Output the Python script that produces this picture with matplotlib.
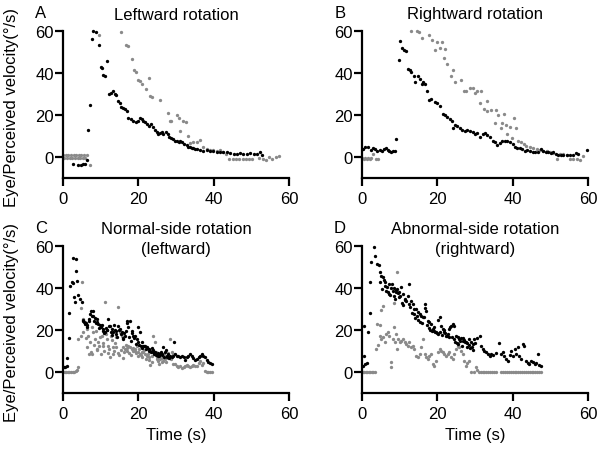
import matplotlib
matplotlib.use("Agg")
import matplotlib.pyplot as plt

plt.rcParams['font.family'] = ['Liberation Sans', 'DejaVu Sans']

# ---------------- data (time s, velocity deg/s) ----------------
A_eye = [(2.7,-3.3),(4.1,-3.6),(4.7,-3.6),(5.3,-3.5),(5.8,-3.4),(6.3,-1.6),(6.7,12.8),(7.2,24.6),
         (7.6,56.2),(8.05,60.0),(8.7,59.4),(9.6,53.3),(10.1,43.0),(10.3,42.5),(10.7,39.0),(11.2,38.6),
         (11.8,45.6),(12.3,30.0),(12.8,30.5),(13.3,31.5),(13.7,30.0),(14.1,29.5),(14.6,26.5),(15.1,25.7),
         (15.5,24.0),(15.9,23.5),(16.4,22.8),(16.9,22.0),(17.3,18.6),(17.96,18.1),(18.7,17.3),(19.4,16.5),
         (20.0,17.3),(20.4,18.6),(20.9,18.1),(21.3,17.3),(21.8,16.5),(22.4,15.7),(22.9,14.9),(23.4,15.7),
         (23.8,14.1),(24.4,12.8),(24.9,11.7),(25.3,10.9),(25.8,11.3),(26.2,11.7),(26.6,10.9),(27.3,11.7),
         (27.8,10.9),(28.2,9.7),(28.7,9.0),(29.3,8.5),(29.8,7.8),(30.2,7.5),(30.7,7.3),(31.1,7.5),
         (31.6,7.0),(32.1,6.2),(32.8,5.5),(33.3,5.0),(33.7,4.8),(34.2,4.5),(34.6,4.2),(35.1,4.0),
         (35.5,4.0),(36.4,3.3),(37.3,3.0),(38.2,3.3),(39.1,3.0),(39.9,3.0),(40.8,2.6),(41.7,2.2),
         (42.6,2.2),(43.5,2.6),(44.4,1.8),(45.3,1.4),(46.1,1.4),(47.0,1.8),(47.9,1.4),(48.8,1.4),
         (49.7,1.8),(50.6,1.4),(51.5,1.4),(52.4,2.2),(52.7,1.0)]
A_perc = [(0.0,0.8),(0.35,-0.6),(0.7,0.8),(1.05,-0.6),(1.4,0.8),(1.75,-0.6),(2.1,0.8),(2.45,-0.6),
          (2.8,0.8),(3.15,-0.6),(3.5,0.8),(3.85,-0.6),(4.2,0.8),(4.55,-0.6),(4.9,0.8),(5.25,-0.6),
          (5.6,0.8),(5.95,-0.6),(6.3,0.8),(7.2,-3.6),(9.6,58.2),(15.3,59.4),(16.7,53.3),(17.3,52.7),
          (18.2,46.8),(18.8,41.6),(19.4,40.3),(19.8,36.7),(20.4,36.0),(21.1,34.8),(22.0,32.4),(22.8,37.6),
          (23.0,29.2),(23.5,28.7),(25.7,27.3),(27.8,21.0),(28.4,17.3),(28.8,17.3),(30.2,20.2),(30.7,18.5),
          (31.1,12.6),(31.9,17.0),(32.6,16.5),(33.3,10.0),(33.7,6.7),(34.6,7.0),(35.5,7.2),(36.4,8.0),
          (37.3,5.0),(38.2,4.0),(39.1,3.5),(39.9,3.5),(40.8,3.0),(41.7,3.5),(42.6,2.5),(43.4,1.4),
          (44.2,-1.0),(45.1,-1.0),(46.0,-0.8),(46.8,-1.0),(47.7,-1.0),(48.6,-0.8),(49.5,-1.0),(50.3,-0.8),
          (52.1,-0.6),(53.0,-1.0),(53.9,-1.4),(54.8,0.0),(55.6,-1.0),(56.5,0.0),(57.3,0.6)]

B_eye = [(0.27,3.8),(0.88,4.6),(1.6,4.9),(2.3,3.3),(2.9,4.3),(3.5,3.8),(4.1,2.7),(4.7,3.3),
         (5.3,2.7),(5.8,3.8),(6.5,4.3),(6.9,3.3),(7.3,2.7),(7.8,2.2),(8.2,3.0),(8.7,2.7),
         (9.1,8.6),(9.7,46.2),(10.2,55.4),(10.6,52.0),(11.2,51.0),(11.8,50.3),(12.2,42.0),(12.7,41.2),
         (13.1,40.3),(13.7,38.7),(14.2,35.6),(14.9,38.7),(15.3,37.1),(15.8,34.7),(16.3,35.9),(16.8,35.0),
         (17.3,31.6),(17.8,27.2),(18.4,27.6),(19.3,26.0),(20.0,25.6),(20.6,24.5),(21.5,20.6),(22.1,20.2),
         (22.6,19.2),(23.3,18.0),(23.9,17.3),(24.2,13.8),(24.8,15.3),(25.3,14.8),(25.9,14.0),(26.6,12.8),
         (27.3,12.2),(28.0,12.8),(28.6,12.2),(29.5,11.7),(30.1,10.9),(30.6,11.4),(31.3,9.7),(32.0,10.9),
         (32.6,11.3),(33.3,10.6),(34.0,9.4),(34.7,7.5),(35.3,7.0),(35.9,5.9),(36.6,6.5),(37.2,7.5),
         (37.9,7.8),(38.6,7.5),(39.3,7.0),(40.0,6.2),(40.6,4.9),(41.2,4.3),(41.9,4.3),(42.6,3.8),
         (43.2,3.0),(43.9,3.5),(44.6,2.7),(45.3,2.2),(45.9,2.2),(46.8,2.2),(47.4,3.8),(48.1,2.7),
         (48.8,2.2),(49.5,2.2),(50.2,1.7),(50.8,2.2),(51.5,1.4),(52.1,1.1),(52.7,1.1),(53.4,1.1),
         (54.3,1.1),(55.2,1.1),(56.1,1.1),(56.8,1.7),(57.4,1.4),(59.8,3.5)]
B_perc = [(0.1,-0.3),(0.5,-0.8),(0.9,-0.3),(1.3,-0.8),(1.7,-0.5),(2.1,-0.8),(2.5,-0.5),(2.9,1.2),
          (3.6,-0.8),(4.3,-0.8),(13.1,59.8),(14.7,60.0),(15.1,59.4),(15.8,56.7),(17.7,58.3),(18.6,55.9),
          (19.3,50.9),(19.9,55.0),(20.6,51.8),(21.2,54.6),(21.7,47.2),(22.1,51.4),(22.6,44.3),(23.7,38.8),
          (24.1,41.6),(24.8,35.6),(26.2,36.7),(27.1,31.3),(27.7,31.6),(28.6,32.9),(29.4,32.9),(30.1,30.7),
          (30.4,31.6),(31.3,25.6),(31.7,31.3),(32.4,23.0),(33.1,21.9),(33.1,26.8),(34.2,22.5),(35.3,16.0),
          (35.7,22.5),(36.2,20.2),(36.8,13.8),(37.3,16.0),(37.8,20.6),(38.2,15.3),(38.6,11.0),(39.3,14.4),
          (39.7,9.0),(40.4,18.6),(40.9,13.8),(41.4,7.5),(42.3,7.0),(42.9,6.2),(43.6,5.4),(44.6,4.9),
          (45.5,4.3),(46.4,3.8),(47.3,3.3),(48.1,3.0),(49.0,2.7),(49.9,2.2),(50.8,1.7),(51.8,-1.0),
          (52.6,1.4),(53.4,1.4),(54.3,1.1),(55.2,-1.0),(56.1,-1.0),(57.0,-1.0),(57.9,-1.4),(58.6,0.6)]

C_eye = [(0.3,2.3),(0.5,2.3),(1.0,3.0),(1.15,6.5),(1.6,16.2),(1.7,28.0),(1.9,40.8),(2.3,42.9),
         (2.7,42.6),(2.6,54.2),(3.0,35.6),(3.2,33.2),(3.4,53.6),(3.4,48.3),(3.8,43.5),(4.1,36.7),
         (4.5,34.9),(5.0,33.2),(5.2,25.0),(5.6,24.0),(6.1,23.3),(6.5,22.4),(7.0,25.4),(7.4,29.2),
         (7.9,29.2),(8.0,26.5),(8.5,25.6),(8.9,25.4),(9.4,22.9),(9.8,22.4),(10.3,22.4),(10.7,20.5),
         (11.2,19.2),(11.6,20.2),(12.0,25.4),(12.5,21.7),(12.9,20.5),(13.4,18.9),(13.8,20.2),(14.2,18.1),
         (14.7,21.7),(15.1,20.5),(15.6,18.9),(16.0,16.0),(16.5,17.3),(16.9,24.4),(17.3,21.3),(17.8,24.4),
         (18.2,18.6),(18.7,17.3),(19.1,17.3),(19.6,15.7),(20.0,21.3),(20.4,18.9),(20.9,14.1),(21.3,12.6),
         (21.8,12.2),(22.2,11.8),(22.7,11.0),(23.1,10.2),(23.5,11.3),(24.0,9.7),(24.4,9.4),(24.9,8.6),
         (25.3,7.8),(25.7,8.6),(26.2,8.6),(26.6,11.8),(27.1,9.4),(27.5,7.5),(28.0,8.6),(28.4,7.8),
         (28.9,7.0),(29.3,7.5),(29.7,8.6),(30.2,7.5),
         (5.4,24.5),(5.9,22.8),(6.3,21.5),(6.8,24.2),(7.2,27.8),(7.7,26.8),(8.2,24.5),(8.7,23.5),
         (9.1,24.0),(9.6,21.0),(10.0,21.5),(10.5,19.5),(10.9,18.5),(11.4,21.0),(11.8,19.8),(12.3,22.0),
         (12.7,19.0),(13.1,17.8),(13.6,22.5),(14.0,19.5),(14.4,16.5),(14.9,20.0),(15.3,18.0),(15.8,15.5),
         (16.2,18.5),(16.7,19.5),(17.1,23.5),(17.5,16.5),(18.0,15.0),(18.4,19.5),(18.9,16.0),(19.3,13.5),
         (19.8,14.5),(20.2,12.8),(20.7,12.5),(21.1,11.5),(21.5,12.5),(22.0,10.8),(22.4,11.5),(22.9,10.0),
         (23.3,9.5),(23.8,10.5),(24.2,8.8),(24.6,8.0),(25.1,9.0),(25.5,7.5),(26.0,9.5),(26.4,8.0),
         (26.8,7.2),(27.3,10.5),(27.7,7.0),(28.2,6.5),(29.5,14.1),
         (30.6,7.8),(31.1,7.0),(31.5,7.5),(32.0,7.0),(32.4,5.9),(32.8,7.0),(33.3,7.8),(33.7,8.6),
         (34.2,7.5),(34.6,6.5),(35.1,5.9),(35.5,6.2),(36.0,7.0),(36.4,7.8),(36.8,8.6),(37.3,7.8),
         (37.7,7.0),(38.2,5.9),(38.6,4.9),(39.0,4.3),(39.5,3.8)]
C_perc = [(0.0,0.0),(0.4,0.0),(0.9,0.0),(1.3,0.0),(1.7,0.0),(2.2,0.0),(2.6,0.0),(3.0,0.2),
          (3.4,0.5),(3.8,0.8),(4.1,2.2),(5.0,42.7),(4.8,30.5),(4.1,15.7),(4.7,17.3),
          (5.4,25.4),(5.8,23.7),(6.3,20.5),(6.1,16.0),(6.7,17.3),(7.0,8.6),(7.4,9.4),(7.6,21.3),
          (8.0,18.9),(8.5,15.7),(8.9,11.0),(9.4,14.1),(9.8,16.5),(10.3,17.3),(10.7,12.6),(11.2,33.2),
          (11.6,15.7),(12.0,12.6),(12.5,7.0),(12.9,15.4),(13.4,11.8),(13.8,13.8),(14.2,16.5),(14.7,30.8),
          (15.1,18.9),(15.6,17.3),(16.0,6.5),(16.5,11.0),(16.9,11.3),(17.3,12.6),(17.8,11.8),(18.2,11.0),
          (18.7,10.2),(19.1,11.0),(19.6,12.6),(20.0,9.4),(20.4,8.6),(20.9,9.7),(21.3,9.4),(21.8,8.6),
          (22.2,7.8),(22.7,7.0),(23.1,3.3),(23.5,4.6),(24.0,17.0),(24.4,14.4),(24.9,6.2),(25.3,5.4),
          (25.7,6.2),(26.2,4.6),(26.6,5.4),(27.1,6.2),(27.5,7.8),(28.0,6.5),(28.4,15.7),(28.9,9.4),
          (29.3,8.6),
          (5.2,19.0),(6.5,12.0),(7.2,14.5),(7.8,8.5),(8.2,13.0),(8.7,19.5),(9.1,10.5),(9.6,12.5),
          (10.0,8.5),(10.5,14.0),(10.9,10.0),(11.4,18.0),(11.9,9.0),(12.3,11.0),(12.7,17.0),(13.2,8.5),
          (13.6,10.0),(14.0,12.0),(14.5,9.0),(14.9,8.0),(15.4,10.5),(15.8,12.0),(16.3,9.5),(16.7,13.0),
          (17.1,10.0),(17.6,9.0),(18.0,8.0),(18.5,11.5),(19.0,10.0),(19.4,9.0),(19.8,7.5),(20.2,11.0),
          (20.7,8.0),(21.1,7.0),(21.6,10.5),(22.0,6.0),(22.5,8.5),(22.9,5.5),(23.7,7.5),(24.6,9.5),
          (25.0,7.0),(25.5,4.0),(26.4,6.5),(26.9,8.5),(27.3,5.0),(27.8,9.0),(28.6,6.0),(29.1,4.0),
          (29.7,3.8),(30.2,2.7),(30.6,2.2),(31.1,3.0),(31.5,1.7),(32.0,2.2),(32.4,2.7),(32.8,3.3),
          (33.3,2.7),(33.7,2.2),(34.2,3.0),(34.6,3.3),(35.1,3.0),(35.5,2.7),(36.0,4.3),(36.4,5.4),
          (36.8,3.3),(37.3,4.3),(37.7,0.6),(38.2,0.2),(38.6,0.2),(39.0,0.2),(39.5,0.2)]

D_eye = [(0.27,3.0),(0.5,7.8),(0.5,21.7),(0.9,3.8),(1.4,4.3),(1.6,19.2),(2.0,28.3),(2.0,42.7),
         (2.5,52.2),(3.2,59.4),(3.5,55.4),(4.1,51.4),(4.4,50.9),
         (4.7,47.8),(5.1,45.9),(5.6,45.1),(4.9,42.7),(5.3,39.5),(6.0,41.1),(6.4,38.7),(6.9,38.0),
         (7.3,41.9),(7.8,39.9),(8.2,38.7),(8.6,36.3),(8.9,38.0),(9.3,39.5),(9.7,35.6),(9.9,38.0),
         (10.4,40.3),(10.8,37.1),(11.3,34.8),(11.7,34.0),(12.2,36.3),(12.6,41.9),(13.0,34.0),(13.5,32.4),
         (13.9,30.0),(14.4,30.0),(14.8,28.4),(15.3,27.6),(15.7,26.8),(16.1,26.0),(16.6,32.4),(17.0,29.2),
         (17.5,24.4),(17.9,23.7),(18.3,22.9),(18.8,20.5),(19.2,19.7),(19.7,18.9),(20.1,18.1),(20.6,26.0),
         (21.0,22.1),(21.4,20.5),(21.9,18.9),(22.3,17.3),(22.8,18.1),(23.2,20.5),(23.6,22.1),(24.1,22.9),
         (24.5,21.7),(24.9,17.3),(25.4,16.5),(25.8,15.7),(26.3,16.0),(26.7,14.9),(27.2,15.4),(27.6,14.1),
         (28.0,13.8),(28.5,15.7),(28.9,14.4),(29.4,13.3),(29.8,15.7),
         (5.8,44.0),(6.2,43.0),(6.7,40.5),(7.1,37.0),(7.5,36.5),(8.0,42.0),(8.4,40.0),(8.8,35.0),
         (9.1,39.0),(9.5,37.5),(10.1,36.0),(10.6,33.0),(11.0,32.0),(11.5,34.5),(12.4,32.5),(12.8,31.0),
         (13.3,28.0),(13.7,27.5),(14.2,25.5),(14.6,26.5),(15.0,25.0),(15.5,24.0),(15.9,23.5),(16.4,26.0),
         (16.8,30.5),(17.2,22.5),(17.7,21.0),(18.1,20.0),(18.6,19.5),(19.0,21.5),(19.5,19.0),(19.9,18.5),
         (20.3,25.0),(20.8,19.0),(21.2,17.5),(21.7,20.0),(22.1,18.5),(22.6,17.0),(23.0,16.5),(23.4,21.5),
         (23.9,16.5),(24.3,15.5),(24.7,14.5),(25.2,14.0),(25.6,13.5),(26.0,15.0),(26.5,12.5),(26.9,16.0),
         (27.4,14.5),(27.8,12.0),(28.3,13.0),(28.7,11.5),(29.1,12.0),(29.6,10.5),
         (29.9,13.8),(30.5,16.0),(31.2,17.0),(31.7,12.6),(32.1,11.0),(32.5,10.2),(33.0,9.4),(33.4,8.6),
         (33.9,7.8),(34.3,8.6),(34.7,8.1),(35.6,9.0),(36.5,13.8),(36.9,8.6),(37.4,9.4),(37.8,7.5),
         (38.3,6.2),(38.7,5.4),(39.2,8.1),(39.6,10.2),(40.0,7.8),(40.5,11.0),(40.9,8.6),(41.4,11.8),
         (41.8,7.8),(42.2,6.2),(42.7,13.3),(43.1,12.6),(43.6,5.4),(44.0,4.3),(44.4,3.8),(44.9,5.4),
         (45.3,4.6),(45.8,3.8),(46.2,4.3),(46.6,8.6),(47.1,3.3),(47.5,3.0)]
D_perc = [(0.2,0.0),(0.6,0.0),(1.0,0.0),(1.4,0.0),(1.8,0.0),(2.2,0.0),(2.6,0.0),(3.0,0.0),
          (3.4,0.0),(3.8,10.9),(4.2,12.9),(4.7,17.3),(4.1,22.9),(4.7,22.4),(5.1,29.7),(5.6,31.6),
          (5.1,15.7),(5.6,16.5),(6.0,14.1),(6.4,18.1),(6.9,18.9),(7.3,17.3),(7.6,4.6),(7.8,2.2),
          (8.2,15.7),(8.5,21.3),(8.8,14.1),(9.1,18.1),(9.3,11.0),(9.4,47.5),(8.6,33.0),(9.5,15.7),
          (9.96,14.1),(10.4,14.9),(10.8,15.7),(11.3,14.1),(11.7,13.3),(12.2,12.6),(12.6,14.1),(13.0,11.8),
          (13.5,12.6),(13.9,11.0),(14.4,7.8),(14.8,7.0),(15.3,8.6),(15.7,11.8),(16.1,15.7),(16.6,8.6),
          (17.0,7.0),(17.5,6.2),(17.9,7.8),(18.3,8.6),(18.8,3.8),(19.2,3.0),(19.7,5.4),(20.1,9.4),
          (20.6,11.0),(21.0,10.2),(21.4,9.4),(21.9,8.6),(22.3,7.8),(22.8,8.6),(23.2,9.4),(23.6,7.0),
          (24.1,6.2),(24.5,8.6),(24.9,11.0),(25.4,12.6),(25.8,11.8),(26.3,10.2),(26.7,8.6),(27.2,5.4),
          (27.6,3.0),(28.0,4.3),(28.5,5.4),(28.9,0.2),(29.8,0.2),(30.2,2.5),(30.5,1.0),(31.0,0.0),
          (31.5,0.0),(32.0,0.0),(32.5,0.0),(33.0,0.0),(33.5,0.0),(34.0,0.0),(34.5,0.0),(35.0,0.0),
          (35.5,0.0),(37.0,0.0),(37.5,0.0),(38.0,0.0),(38.5,0.0),(39.0,0.0),(39.5,0.0),(40.0,0.0),
          (40.5,0.0),(41.0,0.0),(41.5,0.0),(42.0,0.0),(42.5,0.0),(43.0,0.0),(43.5,0.0),(44.0,0.0),
          (44.5,0.0),(45.0,0.0),(45.5,0.0),(46.0,0.0),(46.5,0.0),(47.0,0.0),(47.5,0.0)]

panel_letters = ["A", "B", "C", "D"]
panel_titles = ["Leftward rotation", "Rightward rotation",
                "Normal-side rotation\n(leftward)", "Abnormal-side rotation\n(rightward)"]
x_ticks = [0, 20, 40, 60]
y_ticks = [0, 20, 40, 60]
y_label = "Eye/Perceived velocity(°/s)"
x_label = "Time (s)"

eye_series = [A_eye, B_eye, C_eye, D_eye]
perc_series = [A_perc, B_perc, C_perc, D_perc]

# ---------------- figure ----------------
W, H = 604, 452
fig = plt.figure(figsize=(W / 100, H / 100), dpi=100)

# axes pixel boxes: (left, top, right, bottom)
boxes = [(63, 32, 289, 179), (362, 32, 588, 179),
         (63, 247, 289, 394), (362, 247, 588, 394)]

FS = 12
for i, (l, t, r, b) in enumerate(boxes):
    ax = fig.add_axes([l / W, 1 - b / H, (r - l) / W, (b - t) / H])
    pt, pv = zip(*perc_series[i])
    et, ev = zip(*eye_series[i])
    ax.plot(pt, pv, 'o', color='#8a8a8a', ms=2.4, mew=0, clip_on=False)
    ax.plot(et, ev, 'o', color='#000000', ms=2.4, mew=0, clip_on=False)
    ax.set_xlim(0, 60)
    ax.set_ylim(-10, 60)
    ax.set_xticks(x_ticks)
    ax.set_yticks(y_ticks)
    for s in ['top', 'right']:
        ax.spines[s].set_visible(False)
    for s in ['left', 'bottom']:
        ax.spines[s].set_linewidth(1.6)
    ax.tick_params(axis='both', direction='out', length=5.5, width=1.6, labelsize=FS)
    ax.tick_params(axis='y', pad=1)
    ax.tick_params(axis='x', pad=4)
    cx = (l + r) / 2
    # panel letter
    fig.text((l - 22) / W, 1 - (t - 18) / H, panel_letters[i], fontsize=FS,
             ha='center', va='center')
    # title
    if i < 2:
        fig.text(cx / W, 1 - (t - 17) / H, panel_titles[i], fontsize=FS,
                 ha='center', va='center')
    else:
        line1, line2 = panel_titles[i].split("\n")
        fig.text(cx / W, 1 - (t - 17) / H, line1, fontsize=FS, ha='center', va='center')
        fig.text(cx / W, 1 - (t + 3) / H, line2, fontsize=FS, ha='center', va='center')
    if i % 2 == 0:
        fig.text(12 / W, 1 - ((t + b) / 2 + 2) / H, y_label, fontsize=FS,
                 rotation=90, ha='center', va='center')
    if i >= 2:
        fig.text(cx / W, 1 - 436 / H, x_label, fontsize=FS, ha='center', va='center')

fig.savefig("out.png", dpi=100)
